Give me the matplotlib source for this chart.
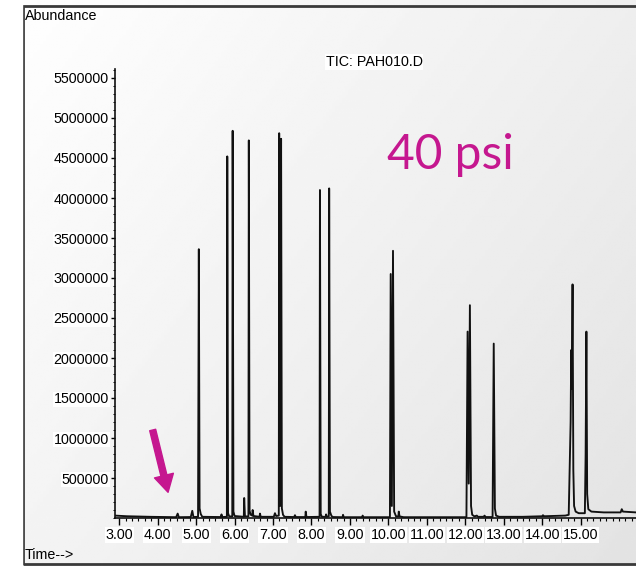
import matplotlib
matplotlib.use("Agg")
import matplotlib.pyplot as plt
import numpy as np
from matplotlib.ticker import MultipleLocator, FormatStrFormatter

plt.rcParams['font.family'] = ['Liberation Sans', 'DejaVu Sans']

# TIC trace vertices (time in min, abundance)
times = [2.89, 3.20, 3.80, 4.48, 4.52, 4.55, 4.86, 4.90, 4.93, 5.05,
         5.07, 5.09, 5.12, 5.16, 5.64, 5.66, 5.68, 5.80, 5.81, 5.83,
         5.86, 5.94, 5.95, 5.97, 6.00, 6.24, 6.25, 6.27, 6.36, 6.37,
         6.39, 6.42, 6.46, 6.47, 6.49, 6.65, 6.66, 6.68, 7.02, 7.05,
         7.08, 7.15, 7.16, 7.185, 7.21, 7.23, 7.26, 7.30, 7.55, 7.57,
         7.59, 7.84, 7.85, 7.87, 8.21, 8.22, 8.24, 8.27, 8.37, 8.38,
         8.40, 8.45, 8.46, 8.48, 8.52, 8.56, 8.81, 8.82, 8.84, 9.32,
         9.33, 9.35, 10.04, 10.06, 10.09, 10.12, 10.15, 10.20, 10.26, 10.27,
         10.29, 10.40, 12.03, 12.06, 12.09, 12.12, 12.15, 12.18, 12.24, 12.30,
         12.33, 12.48, 12.50, 12.53, 12.71, 12.74, 12.77, 12.80, 12.88, 13.50,
         14.00, 14.02, 14.05, 14.60, 14.69, 14.74, 14.755, 14.77, 14.79, 14.81,
         14.83, 14.87, 14.95, 15.11, 15.13, 15.15, 15.17, 15.20, 15.28, 15.60,
         16.04, 16.07, 16.10, 16.44]
abundance = [30000, 22000, 15000, 10000, 55000, 10000, 12000, 90000, 12000, 15000,
             3360000, 120000, 50000, 15000, 12000, 45000, 12000, 15000, 4520000, 60000,
             20000, 20000, 4840000, 80000, 25000, 15000, 250000, 20000, 20000, 4720000,
             90000, 40000, 30000, 100000, 25000, 15000, 55000, 15000, 15000, 60000,
             25000, 30000, 4810000, 150000, 4740000, 120000, 40000, 15000, 12000, 35000,
             12000, 12000, 80000, 12000, 15000, 4100000, 50000, 15000, 15000, 45000,
             15000, 20000, 4120000, 80000, 25000, 12000, 10000, 40000, 10000, 10000,
             30000, 10000, 10000, 3050000, 150000, 3340000, 80000, 20000, 20000, 80000,
             20000, 10000, 10000, 2330000, 430000, 2660000, 150000, 40000, 20000, 30000,
             15000, 15000, 30000, 12000, 12000, 2180000, 120000, 30000, 15000, 15000,
             22000, 35000, 22000, 30000, 40000, 1200000, 2100000, 1620000, 2920000, 600000,
             150000, 80000, 60000, 60000, 800000, 2330000, 300000, 110000, 80000, 70000,
             70000, 110000, 80000, 70000]

y_ticks = [500000, 1000000, 1500000, 2000000, 2500000, 3000000,
           3500000, 4000000, 4500000, 5000000, 5500000]
x_ticks = [3, 4, 5, 6, 7, 8, 9, 10, 11, 12, 13, 14, 15]

magenta = '#c5178f'

fig = plt.figure(figsize=(6.36, 5.66), dpi=100)

# grey gradient background with frame
bg = fig.add_axes([0, 0, 1, 1], zorder=-10)
gx, gy = np.meshgrid(np.linspace(0, 1, 200), np.linspace(0, 1, 200))
grad = 1.0 - 0.11 * (0.6 * gx + 0.4 * gy)
bg.imshow(grad, cmap='gray', vmin=0, vmax=1, aspect='auto',
          extent=[0, 1, 0, 1], origin='upper')
bg.add_patch(plt.Rectangle((23 / 636, 2 / 566), 0.99, 1 - 8 / 566, fill=False,
                           edgecolor='#3a3a3a', linewidth=2.0))
bg.fill_between([0, 22 / 636], 0, 1, color='white')
bg.set_xlim(0, 1)
bg.set_ylim(0, 1)
bg.axis('off')

ax = fig.add_axes([115 / 636, 1 - 518 / 566, 1 - 115 / 636, (518 - 69) / 566])
ax.patch.set_visible(False)
ax.plot(times, abundance, color='#111111', linewidth=1.35)

ax.set_xlim(2.89, 16.44)
ax.set_ylim(0, 5612500)
ax.set_xticks(x_ticks)
ax.set_yticks(y_ticks)
ax.xaxis.set_minor_locator(MultipleLocator(1 / 6))
ax.yaxis.set_minor_locator(MultipleLocator(100000))
ax.xaxis.set_major_formatter(FormatStrFormatter('%.2f'))
ax.yaxis.set_major_formatter(FormatStrFormatter('%d'))

for s in ['top', 'right']:
    ax.spines[s].set_visible(False)
for s in ['left', 'bottom']:
    ax.spines[s].set_linewidth(1.2)
    ax.spines[s].set_color('#111111')

ax.tick_params(axis='x', which='major', direction='out', length=5, width=1,
               pad=2, labelsize=10.3)
ax.tick_params(axis='x', which='minor', direction='out', length=2.5, width=0.8)
ax.tick_params(axis='y', which='major', direction='out', length=3, width=1,
               pad=1.5, labelsize=10.3)
ax.tick_params(axis='y', which='minor', direction='out', length=1.5, width=0.7)
for lbl in ax.get_xticklabels() + ax.get_yticklabels():
    lbl.set_bbox(dict(facecolor='white', edgecolor='none', pad=0.6))

# arrow pointing at the baseline region
ax.annotate('', xy=(4.27, 321000), xytext=(3.87, 1100000),
            arrowprops=dict(arrowstyle='simple,head_width=0.7,head_length=0.62,tail_width=0.22',
                            color=magenta, shrinkA=0, shrinkB=0, mutation_scale=20))

fig.text(25 / 636, 1 - 16 / 566, 'Abundance', fontsize=10.3, ha='left', va='center')
fig.text(25 / 636, 1 - 555 / 566, 'Time-->', fontsize=10.3, ha='left', va='center')
fig.text(374 / 636, 1 - 62 / 566, 'TIC: PAH010.D', fontsize=10.3, ha='center', va='center',
         bbox=dict(facecolor='white', edgecolor='none', pad=0.6))
fig.text(387 / 636, 1 - 169 / 566, '40 psi', fontsize=34.5, color=magenta,
         family=['Lato', 'DejaVu Sans'], fontweight='normal', ha='left', va='baseline')

fig.savefig('out.png', dpi=100)
